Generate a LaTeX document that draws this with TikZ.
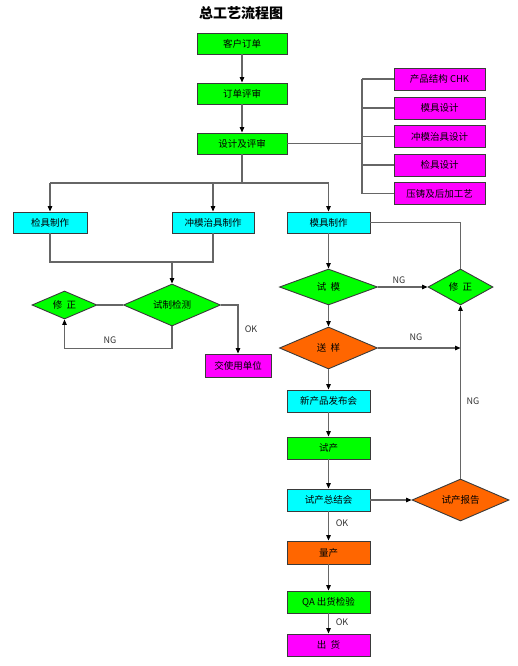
\documentclass[tikz,border=0pt]{standalone}
\usepackage{fontspec}
\setmainfont{Noto Sans CJK SC}
\usetikzlibrary{shapes.geometric,arrows.meta}
\definecolor{cgreen}{HTML}{00FF00}
\definecolor{ccyan}{HTML}{00FFFF}
\definecolor{cmag}{HTML}{FF00FF}
\definecolor{corange}{HTML}{FF6600}
\definecolor{cborder}{HTML}{3A3A3A}
\definecolor{cline}{HTML}{666666}
\tikzset{
  box/.style={rectangle,draw=cborder,line width=0.9pt,inner sep=0pt,minimum height=21pt,font=\fontsize{9.5}{10}\selectfont},
  dia/.style={diamond,draw=cborder,line width=0.9pt,inner sep=0pt,shape aspect=2.5,font=\fontsize{9.5}{10}\selectfont},
  conn/.style={draw=cline,line width=1.1pt},
  arr/.style={conn,-{Triangle[length=5.5pt,width=4.5pt,fill=black,color=black]}},
  lbl/.style={font=\fontsize{9}{10}\selectfont,text=black!80}
}
\begin{document}
\begin{tikzpicture}[x=1pt,y=-1pt]
\useasboundingbox (0,0) rectangle (518,666);
\node[font=\fontsize{14}{16}\selectfont\bfseries] (title) at (241,13) {总工艺流程图};
% main top column
\node[box,fill=cgreen,minimum width=90pt] (khdd) at (242,43.5) {客户订单};
\node[box,fill=cgreen,minimum width=90pt] (ddps) at (242,93.5) {订单评审};
\node[box,fill=cgreen,minimum width=90pt] (sjps) at (242,143.5) {设计及评审};
% magenta design boxes
\node[box,fill=cmag,minimum width=91pt,minimum height=22pt] (m1) at (439.5,79) {产品结构 CHK};
\node[box,fill=cmag,minimum width=91pt,minimum height=22pt] (m2) at (439.5,108) {模具设计};
\node[box,fill=cmag,minimum width=91pt,minimum height=22pt] (m3) at (439.5,136.5) {冲模治具设计};
\node[box,fill=cmag,minimum width=91pt,minimum height=22pt] (m4) at (439.5,165) {检具设计};
\node[box,fill=cmag,minimum width=91pt,minimum height=22pt] (m5) at (439.5,193.5) {压铸及后加工艺};
% row of cyan
\node[box,fill=ccyan,minimum width=74pt] (jjzz) at (50,222.5) {检具制作};
\node[box,fill=ccyan,minimum width=82pt] (cmzz) at (213,222.5) {冲模治具制作};
\node[box,fill=ccyan,minimum width=83pt] (mjzz) at (328.5,222.5) {模具制作};
% left branch
\node[dia,fill=cgreen,minimum width=97pt,minimum height=42pt] (zjjc) at (172,305) {试制检测};
\node[dia,fill=cgreen,minimum width=65pt,minimum height=28pt] (xzl) at (64.5,305) {修\ \ 正};
\node[box,fill=cmag,minimum width=66pt,minimum height=23pt] (jsy) at (238,365.5) {交使用单位};
% right branch
\node[dia,fill=cgreen,minimum width=98pt,minimum height=36pt] (sm) at (328.5,287) {试\ \ 模};
\node[dia,fill=cgreen,minimum width=65pt,minimum height=36pt] (xzr) at (460.5,287) {修\ \ 正};
\node[dia,fill=corange,minimum width=98pt,minimum height=42pt] (sy) at (328.5,348) {送\ \ 样};
\node[box,fill=ccyan,minimum width=83pt,minimum height=22pt] (xcp) at (328.5,401) {新产品发布会};
\node[box,fill=cgreen,minimum width=83pt,minimum height=22pt] (sc) at (328.5,448) {试产};
\node[box,fill=ccyan,minimum width=83pt,minimum height=22pt] (sczjh) at (328.5,500) {试产总结会};
\node[dia,fill=corange,minimum width=97pt,minimum height=42pt] (scbg) at (460.5,500) {试产报告};
\node[box,fill=corange,minimum width=83pt,minimum height=23pt] (lc) at (328.5,552.5) {量产};
\node[box,fill=cgreen,minimum width=83pt,minimum height=22pt] (qa) at (328.5,602) {QA 出货检验};
\node[box,fill=cmag,minimum width=83pt,minimum height=22pt] (ch) at (328.5,645) {出\ \ 货};
% bus coordinates
\coordinate (bus) at (0,183);
\coordinate (rbus) at (362,0);
\coordinate (lbus) at (0,262);
% top column connectors
\draw[arr] (khdd) -- (ddps);
\draw[arr] (ddps) -- (sjps);
\draw[conn] (sjps.south) -- (sjps.south |- bus);
\draw[conn] (jjzz.north |- bus) -- (mjzz.north |- bus);
\draw[arr] (jjzz.north |- bus) -- (jjzz.north);
\draw[arr] (cmzz.north |- bus) -- (cmzz.north);
\draw[arr] (mjzz.north |- bus) -- (mjzz.north);
% right design bus
\draw[conn] (sjps.east) -- (rbus |- sjps.east);
\draw[conn] (rbus |- m1.west) -- (rbus |- m5.west);
\foreach \m in {m1,m2,m3,m4,m5} \draw[conn] (rbus |- \m.west) -- (\m.west);
% left branch
\draw[conn] (jjzz.south) -- (jjzz.south |- lbus) -- (cmzz.south |- lbus) -- (cmzz.south);
\draw[arr] (zjjc.north |- lbus) -- (zjjc.north);
\draw[conn] (xzl.east) -- (zjjc.west);
\draw[arr] (zjjc.south) -- ++(0,22) coordinate (ngl) -| (xzl.south);
\node[lbl] (ngl1) at (110,340) {NG};
\draw[arr] (zjjc.east) -| (jsy.north);
\node[lbl] (okl1) at (251,329) {OK};
% right branch
\draw[arr] (mjzz) -- (sm);
\draw[conn] (mjzz.east) -| (xzr.north);
\draw[arr] (sm.east) -- (xzr.west);
\node[lbl] (ng1) at (399,280) {NG};
\draw[arr] (sm) -- (sy);
\draw[arr] (sy.east) -- (xzr.south |- sy.east);
\node[lbl] (ng2) at (416,337) {NG};
\draw[arr] (scbg.north) -- (xzr.south);
\node[lbl] (ng3) at (473,401) {NG};
\draw[arr] (sy) -- (xcp);
\draw[arr] (xcp) -- (sc);
\draw[arr] (sc) -- (sczjh);
\draw[arr] (sczjh.east) -- (scbg.west);
\draw[arr] (sczjh) -- (lc);
\node[lbl] (ok2) at (342,523) {OK};
\draw[arr] (lc) -- (qa);
\draw[arr] (qa) -- (ch);
\node[lbl] (ok3) at (342,622) {OK};
\end{tikzpicture}
\end{document}
